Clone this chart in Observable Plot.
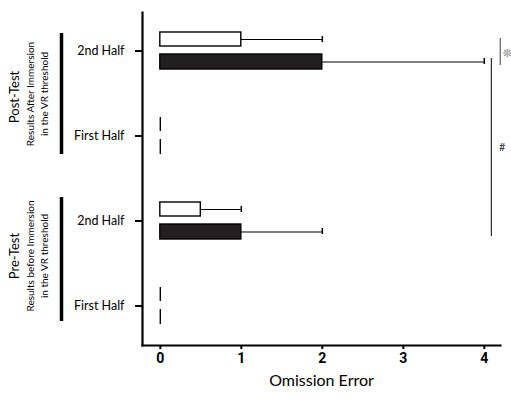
<!DOCTYPE html>
<html>
<head>
<meta charset="utf-8">
<script src="https://cdn.jsdelivr.net/npm/d3@7"></script>
<script src="https://cdn.jsdelivr.net/npm/@observablehq/plot@0.6"></script>
<style>
  html, body { margin: 0; padding: 0; background: #fff; }
  #chart svg { font-family: Lato, "Open Sans", sans-serif; }
  g[aria-label="x-axis tick label"] text { font-family: "Liberation Sans Narrow", Roboto, sans-serif; font-weight: bold; font-size: 14px; }
  g[aria-label="x-axis label"] text { font-size: 16px; font-weight: normal; }
</style>
</head>
<body>
<div id="chart"></div>
<script>
// Categories (top to bottom), group|label
const categories = ["Post|2nd Half", "Post|First Half", "Pre|2nd Half", "Pre|First Half"];
// White bars (upper) and black bars (lower): mean and error
const whiteValues = [1, 0, 0.5, 0];
const whiteErrors = [1, 0, 0.5, 0];
const blackValues = [2, 0, 1, 0];
const blackErrors = [2, 0, 1, 0];
const xTicks = [0, 1, 2, 3, 4];
const xDomain = [-0.22, 4.2];
// Group annotations
const groupKeys = ["Post", "Pre"];
const groupTitles = ["Post-Test", "Pre-Test"];
const groupSubtitles = ["Results After Immersion\nin the VR threshold", "Results before Immersion\nin the VR threshold"];
// Significance marks
const sigBracket = [{from: "Post|2nd Half", to: "Pre|2nd Half", x: 4, label: "#"}];
const sigPair = [{cat: "Post|2nd Half", x: 4, label: "❊"}];

const data = categories.map((c, i) => ({
  cat: c,
  white: whiteValues[i], whiteHi: whiteValues[i] + whiteErrors[i], whiteErr: whiteErrors[i],
  black: blackValues[i], blackHi: blackValues[i] + blackErrors[i], blackErr: blackErrors[i]
}));
const groups = groupKeys.map((g, i) => ({
  first: categories.find(c => c.startsWith(g + "|")),
  last: categories.filter(c => c.startsWith(g + "|")).slice(-1)[0],
  title: groupTitles[i], sub: groupSubtitles[i]
}));

const chart = Plot.plot({
  width: 511,
  height: 400,
  marginLeft: 142,
  marginRight: 11,
  marginTop: 12,
  marginBottom: 55,
  x: {domain: xDomain},
  y: {domain: categories, paddingInner: 0.113, paddingOuter: 0},
  marks: [
    Plot.frame({anchor: "left", strokeWidth: 2.2}),
    Plot.frame({anchor: "bottom", strokeWidth: 2.2}),
    Plot.axisX({ticks: xTicks, tickFormat: d3.format("d"), tickSize: 4, tickPadding: 4, strokeWidth: 2, label: "Omission Error", labelAnchor: "center", labelArrow: "none", labelOffset: 40}),
    Plot.axisY({tickFormat: d => d.split("|")[1], tickSize: 7, tickPadding: 11, strokeWidth: 2, fontSize: 12.5, label: null}),
    // error bars
    Plot.ruleY(data.filter(d => d.whiteErr > 0), {y: "cat", x1: "white", x2: "whiteHi", dy: -11.5, strokeWidth: 1.2}),
    Plot.tickX(data.filter(d => d.whiteErr > 0), {y: "cat", x: "whiteHi", insetTop: 23, insetBottom: 46, strokeWidth: 1.5}),
    Plot.ruleY(data.filter(d => d.blackErr > 0), {y: "cat", x1: "black", x2: "blackHi", dy: 11, strokeWidth: 1.2}),
    Plot.tickX(data.filter(d => d.blackErr > 0), {y: "cat", x: "blackHi", insetTop: 45, insetBottom: 24, strokeWidth: 1.5}),
    // bars (zero-valued bars drawn as a thin outline)
    Plot.barX(data.filter(d => d.white > 0), {y: "cat", x: "white", fill: "white", stroke: "black", strokeWidth: 1.4, insetTop: 19, insetBottom: 42}),
    Plot.barX(data.filter(d => d.black > 0), {y: "cat", x: "black", fill: "#231f20", stroke: "black", strokeWidth: 1.4, insetTop: 41, insetBottom: 19}),
    Plot.tickX(data.filter(d => d.white === 0), {y: "cat", x: "white", strokeWidth: 1.4, insetTop: 19, insetBottom: 42}),
    Plot.tickX(data.filter(d => d.black === 0), {y: "cat", x: "black", strokeWidth: 1.4, insetTop: 41, insetBottom: 19}),
    // significance
    Plot.ruleX(sigBracket, {x: "x", y1: "from", y2: "to", dx: 7, insetTop: 45, insetBottom: 22, strokeWidth: 1}),
    Plot.text(sigBracket, {x: "x", y: d => categories[categories.indexOf(d.from) + 1], text: "label", dx: 18, dy: 11, fontSize: 11, fill: "#333"}),
    Plot.ruleX(sigPair, {x: "x", y1: "cat", y2: "cat", dx: 16, insetTop: 25, insetBottom: 23, stroke: "#777", strokeWidth: 1.5}),
    Plot.text(sigPair, {x: "x", y: "cat", text: "label", dx: 23, dy: 2, fontSize: 11, fill: "#666", fontFamily: "DejaVu Sans"}),
    // group labels
    Plot.ruleX(groups.slice(0, 1), {x: () => xDomain[0], y1: "first", y2: "last", dx: -81, insetTop: 20, insetBottom: 19, strokeWidth: 3.5}),
    Plot.ruleX(groups.slice(1), {x: () => xDomain[0], y1: "first", y2: "last", dx: -81, insetTop: 14, insetBottom: 22, strokeWidth: 3.5}),
    Plot.text(groups.slice(0, 1), {y: "first", frameAnchor: "left", textAnchor: "middle", text: "title", rotate: -90, dx: -128, dy: 46, fontSize: 13}),
    Plot.text(groups.slice(0, 1), {y: "first", frameAnchor: "left", textAnchor: "middle", text: "sub", rotate: -90, dx: -106, dy: 43, fontSize: 10, lineHeight: 1.4}),
    Plot.text(groups.slice(1), {y: "first", frameAnchor: "left", textAnchor: "middle", text: "title", rotate: -90, dx: -128, dy: 35, fontSize: 13}),
    Plot.text(groups.slice(1), {y: "first", frameAnchor: "left", textAnchor: "middle", text: "sub", rotate: -90, dx: -106, dy: 35, fontSize: 10, lineHeight: 1.4})
  ]
});
document.getElementById("chart").appendChild(chart);
</script>
</body>
</html>
